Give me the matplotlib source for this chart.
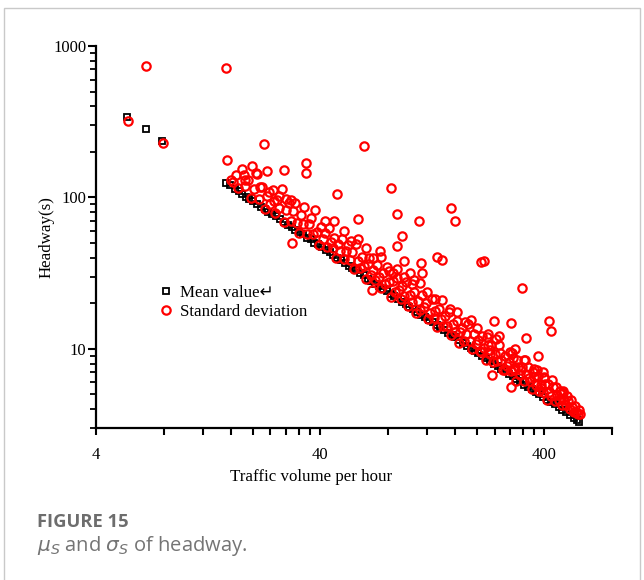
import matplotlib
matplotlib.use("Agg")
import matplotlib.pyplot as plt
from matplotlib.ticker import FixedLocator, NullFormatter, FixedFormatter
from matplotlib.patches import Rectangle

# ---------------- data ----------------
mean_volume = [5.5, 6.7, 7.9,
    15.2, 15.9, 16.6, 17.3, 18.0, 18.6, 19.3, 20.1, 20.9, 21.8, 22.6, 23.5, 24.4, 25.3,
    26.4, 27.5, 28.6, 29.8, 31.0, 32.2, 33.5, 34.8, 36.2, 37.6, 39.1, 40.7, 42.3, 44.0,
    45.8, 47.6, 49.5, 51.5, 53.6, 55.7, 57.9, 60.2, 62.6, 65.1, 67.7, 70.4, 73.2, 76.1,
    79.2, 82.3, 85.6, 89.0, 92.6, 96.3, 100, 104, 108, 113, 117, 122, 127, 132, 137, 143,
    148, 154, 160, 167, 173, 180, 188, 195, 203, 211, 219, 228, 237, 247, 257, 267, 278,
    289, 300, 312, 325, 338, 351, 365, 380, 395, 411, 427, 444, 462, 480, 500, 520, 540,
    560, 570]
mean_value = [340, 285, 236,
    125, 120, 114, 110, 106, 101, 98, 95, 90, 87, 84, 80, 78, 75,
    72, 69, 66, 64, 61, 59, 57, 54, 53, 50, 49, 47, 45, 43.5,
    41.5, 40, 38.5, 37, 35.5, 34, 33, 31.5, 30.5, 29, 28, 27, 26, 25,
    24, 23, 22.3, 21.3, 20.5, 19.8, 19, 18.2, 17.6, 16.8, 16.2, 15.6, 15, 14.4, 13.9, 13.3,
    12.8, 12.3, 11.9, 11.4, 11, 10.5, 10.1, 9.7, 9.4, 9, 8.7, 8.3, 8, 7.7, 7.4, 7.1, 6.8,
    6.6, 6.3, 6.1, 5.8, 5.6, 5.4, 5.2, 5.0, 4.8, 4.6, 4.45, 4.3, 4.1, 3.95, 3.8, 3.65, 3.5,
    3.4, 3.3]

std_volume = [
    # scattered / high values
    6.69, 15.2, 5.54, 7.94, 15.3, 22.5, 62.9, 19.8, 34.6, 34.6, 23.1, 20.6, 27.6, 18.2,
    16.4, 18.5, 47.3, 82.3, 21.6, 23.6, 26.3, 28.2, 29.6, 24.9, 153, 160, 87.7, 110, 58.7,
    93, 87.7, 74, 133, 139, 95, 112, 114, 101, 105, 84.5, 68.4, 30, 208, 216, 318, 238,
    283, 420, 426, 225, 250, 330, 296, 287, 374, 324, 360, 392, 396, 233, 284, 482,
    # main band
    16.0, 16.8, 17.2, 17.9, 18.4, 19.0, 19.6, 20.2, 20.8, 21.3, 22.0, 22.7, 23.2, 23.9,
    24.5, 25.1, 25.7, 26.3, 27.0, 27.6, 28.2, 28.9, 29.5, 30.1, 30.8, 31.4, 32.0, 32.7,
    33.4, 34.0, 34.8, 35.5, 36.3, 37.0, 37.8, 38.5, 39.4, 40.2, 41.0, 41.9, 42.7, 43.6,
    44.5, 45.4, 46.3, 47.2, 48.2, 49.2, 50.1, 51.1, 52.2, 53.2, 54.3, 55.4, 56.5, 57.7,
    58.8, 60.0, 61.2, 62.5, 63.7, 65.0, 66.3, 67.7, 69.0, 70.4, 71.8, 73.3, 74.7, 76.2,
    77.8, 79.3, 80.9, 82.6, 84.2, 85.9, 87.6, 89.4, 91.2, 93.0, 94.9, 96.8, 98.7, 100.7,
    102.7, 104.8, 106.9, 109, 111, 113.5, 115.8, 118, 120.5, 123, 125.4, 128, 130.5, 133,
    135.7, 138.5, 141.3, 144, 147, 150, 153, 156, 159, 162.3, 165.5, 168.8, 172, 175.6,
    179, 182.7, 186.4, 190, 194, 198, 202, 206, 210, 214, 218.5, 223, 227.5, 232, 236.6,
    241.4, 246, 251, 256, 261, 266, 271.5, 277, 282.5, 288, 294, 300, 306, 312, 318,
    324.5, 331, 337.6, 344, 351, 358, 365, 372.5, 380, 387.5, 395, 403, 411, 419, 427.5,
    436, 444.7, 453.5, 462.5, 471.8, 481, 490.7, 500.5, 510.5, 520.7, 531, 541.6, 552,
    563, 574,
    # upper edge of band
    200, 209, 221, 229, 244, 253, 268, 280, 291, 303, 315, 328, 341, 355, 369, 384, 399,
    415, 432, 449, 467, 486, 505, 526, 547, 568,
    42, 46, 51, 55, 59, 64, 69, 75, 81, 88, 95, 103, 111, 120, 130, 140, 151, 163, 176, 189]
std_value = [
    738, 716, 320, 230, 177, 225, 219, 161, 169, 145, 149, 145, 152, 141,
    126, 130, 105, 115, 117, 109, 102, 97, 96, 94, 85, 69.8, 77.5, 69.8, 72,
    55.5, 47.6, 44.2, 40.3, 38.6, 38, 36.9, 31.7, 31.7, 28.4, 31.7, 24.4, 50, 37.5, 38, 25.2, 15.3,
    14.8, 15.3, 13.1, 12.5, 12.2, 11.8, 10, 9.4, 9.0, 8.4, 7.4, 7.0, 6.5, 6.7, 5.6, 5.1,
    131, 141, 116, 154, 119, 130, 99, 113, 142, 98, 117, 83.7, 102, 91,
    112, 79.5, 96, 85, 113, 68.8, 82, 92, 69.5, 81, 92.5, 68, 58, 77,
    67, 87, 57, 67, 73, 57.5, 83, 59, 48.2, 64, 53, 58, 46.7, 63,
    51, 46, 54, 39.5, 49, 44.4, 53, 39, 44.4, 48.2, 38.5, 43.9, 33.6, 49.4,
    38.1, 34.2, 40.3, 35, 28.9, 36.5, 40.1, 30.9, 33, 28.3, 35.7, 29.8, 25.4, 31.9,
    26.9, 34.8, 27.7, 21.9, 28.2, 23.9, 29.3, 24.4, 21.2, 26.1, 22.4, 27.5, 19.3, 22.6,
    20.4, 23.6, 17.2, 20.6, 18, 22.6, 18.9, 20.1, 15.8, 17.3, 21.2, 16, 17.8, 14,
    18.2, 15.8, 14.1, 16.5, 14.2, 17.5, 12.4, 14.6, 12.9, 15.2, 11, 13, 13.8, 11.3,
    12.5, 14.6, 11.2, 10, 12.5, 10.7, 11.5, 9.7, 12.2, 10.2, 8.5, 10.6, 9.2, 10.6, 8.2,
    9.3, 8.3, 10.6, 8.5, 7.28, 8.9, 7.7, 8.2, 7.1, 8.7, 7.4, 6.1, 7.6, 6.7, 7.6,
    6.15, 6.8, 7.6, 6.1, 5.41, 6.5, 5.8, 6.6, 5.25, 5.8, 5.2, 5.9, 4.62, 5.2, 4.9,
    5.6, 4.5, 4.95, 4.6, 5.0, 4.27, 4.57, 4.25, 4.54, 4.0, 4.1, 3.8, 3.85,
    3.7, 3.7,
    13.8, 9.5, 11.9, 9.8, 11.7, 9.4, 7.2, 9.6, 7.2, 8.5, 7.2, 8.4, 6.4, 7.0, 7.2, 5.5, 6.4,
    5.9, 6.2, 5.6, 5.3, 5.3, 4.9, 4.6, 4.2, 3.95,
    70, 70, 59.6, 51.8, 53, 46, 40, 40.5, 32.9, 33.5, 30, 26.7, 27.4, 23.8, 21.2, 21, 18.3, 17.5, 15.1, 15.6]

x_ticks = [4, 8, 12, 16, 20, 24, 28, 32, 36, 40, 80, 120, 160, 200, 240, 280, 320, 360, 400, 800]
x_labels = ["4", "", "", "", "", "", "", "", "", "40", "", "", "", "", "", "", "", "", "400", ""]
y_ticks = [10, 100, 1000]
y_labels = ["10", "100", "1000"]

# ---------------- figure ----------------
W, H = 644, 580
fig = plt.figure(figsize=(W / 100, H / 100), dpi=100)
serif = ["Liberation Serif", "DejaVu Serif"]
plt.rcParams["mathtext.fontset"] = "dejavusans"

# outer frame
fig.patches.append(Rectangle((4 / W, -0.05), 636 / W, (H - 8) / H + 0.05,
                             transform=fig.transFigure, fill=False,
                             edgecolor="#c9c9c9", linewidth=1.0))

ax = fig.add_axes([96 / W, 1 - 428 / H, (612 - 96) / W, (428 - 46) / H])
ax.set_xscale("log")
ax.set_yscale("log")
ax.set_xlim(4, 800)
ax.set_ylim(3, 1000)

ax.plot(mean_volume, mean_value, linestyle="none", marker="s", markersize=4.5,
        markerfacecolor="none", markeredgecolor="black", markeredgewidth=1.3,
        label="Mean value\u21b5", zorder=2, clip_on=False)
ax.plot(std_volume, std_value, linestyle="none", marker="o", markersize=6.0,
        markerfacecolor="none", markeredgecolor="#ff0000", markeredgewidth=1.6,
        label="Standard deviation", zorder=3, clip_on=False)

for s in ["top", "right"]:
    ax.spines[s].set_visible(False)
for s in ["left", "bottom"]:
    ax.spines[s].set_linewidth(1.6)

ax.xaxis.set_major_locator(FixedLocator(x_ticks))
ax.xaxis.set_major_formatter(FixedFormatter(x_labels))
ax.xaxis.set_minor_locator(FixedLocator([]))
ax.yaxis.set_major_locator(FixedLocator(y_ticks))
ax.yaxis.set_major_formatter(FixedFormatter(y_labels))
ax.yaxis.set_minor_locator(FixedLocator([3, 4, 5, 6, 7, 8, 9, 20, 30, 40, 50, 60, 70, 80, 90,
                                         200, 300, 400, 500, 600, 700, 800, 900]))
ax.yaxis.set_minor_formatter(NullFormatter())
ax.tick_params(axis="x", which="major", length=5, width=1.5, direction="out", pad=9,
               labelsize=12)
ax.tick_params(axis="y", which="major", length=6, width=1.5, direction="out", pad=1,
               labelsize=12)
ax.tick_params(axis="y", which="minor", length=4, width=1.3, direction="out")
for lab in ax.get_xticklabels() + ax.get_yticklabels():
    lab.set_fontfamily(serif)

ax.set_xlabel("Traffic volume per hour", fontsize=12.2, family=serif)
ax.xaxis.set_label_coords((311 - 96) / 516, -(469 - 428) / 382)
ax.set_ylabel("Headway(s)", fontsize=12.2, family=serif)
ax.yaxis.set_label_coords(-(96 - 55) / 516, 0.5)

leg = ax.legend(loc="upper left", bbox_to_anchor=((161 - 96) / 516, 1 - (285 - 46) / 382),
                frameon=False, handlelength=0.6, handletextpad=0.5, labelspacing=0.2,
                borderpad=0, borderaxespad=0,
                prop={"family": ["Liberation Serif", "DejaVu Sans"], "size": 12.2})

# caption
fig.text(37 / W, 1 - 522 / H, "FIGURE 15", fontsize=13.2, fontweight="bold",
         color="#6d6d6d", family="Open Sans", va="center", ha="left")
fig.text(37 / W, 1 - 546 / H, r"$\mu_S$ and $\sigma_S$ of headway.", fontsize=14.5,
         color="#747474", family="Open Sans", va="center", ha="left")

fig.savefig("out.png", dpi=100)
